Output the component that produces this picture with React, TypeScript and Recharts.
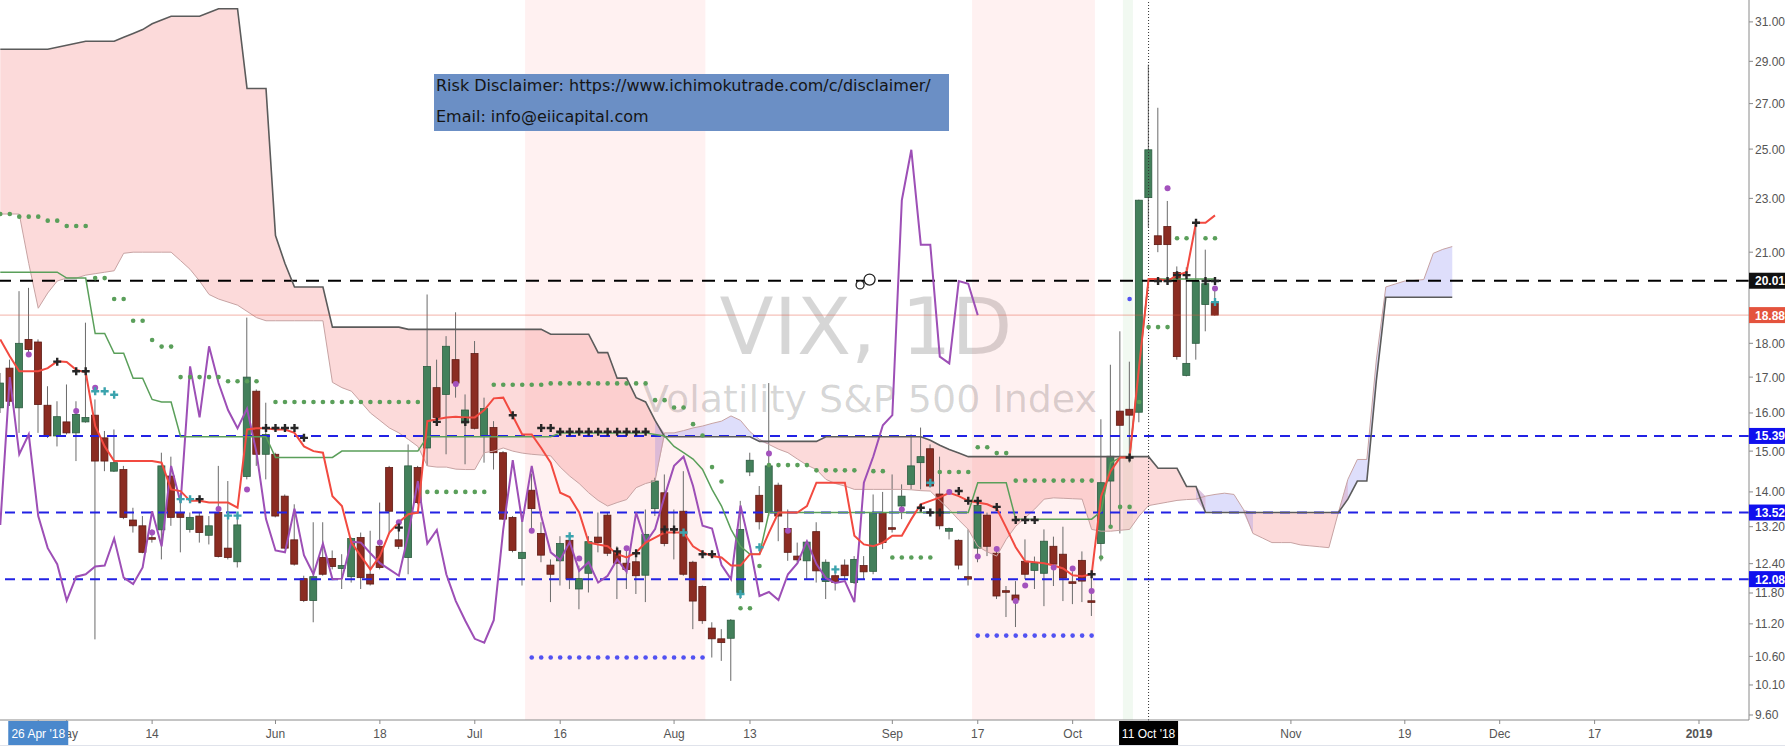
import React from 'react';
import {
  ComposedChart, Bar, Line, Area, Scatter, XAxis, YAxis,
  ReferenceLine, ReferenceArea, ReferenceDot,
} from 'recharts';

// bar index 0 = 20 Apr 2018, one step per trading day (every weekday after 22 Oct)
const opens = [
  16.14, 17.26, 16.14, 18.12, 18.04, 16.21, 15.39, 15.76, 15.47, 15.76,
  15.94, 15.34, 14.50, 14.54, 13.35, 13.22, 12.95, 13.13, 14.38, 13.52,
  13.14, 13.44, 13.01, 13.52, 12.73, 12.44, 14.37, 16.60, 14.92, 14.92,
  13.90, 12.91, 12.09, 11.65, 12.53, 12.51, 12.30, 12.13, 12.96, 12.18,
  12.77, 14.59, 12.91, 12.53, 14.59, 15.08, 16.70, 16.51, 17.51, 15.73,
  17.69, 15.37, 15.61, 14.96, 13.41, 12.51, 14.04, 13.05, 12.37, 12.46,
  12.90, 11.88, 12.20, 12.97, 13.46, 12.65, 12.41, 12.44, 12.16, 13.61,
  13.98, 13.15, 13.55, 12.43, 11.93, 11.12, 10.92, 10.93, 11.81, 14.48,
  13.92, 13.52, 14.16, 13.16, 12.56, 12.46, 13.09, 12.03, 12.15, 12.37,
  12.01, 12.36, 12.24, 13.52, 13.17, 13.67, 14.18, 14.71, 15.06, 13.95,
  13.10, 12.90, 12.13, 12.73, 13.46, 12.62, 11.84, 11.76, 12.45, 12.26,
  12.20, 12.77, 12.60, 12.02, 12.47, 11.64, 12.83, 14.26, 16.05, 16.10,
  16.02, 23.03, 21.59, 21.93, 20.29, 17.05, 18.00, 19.22, 19.29,
];
const highs = [
  17.12, 17.51, 19.66, 19.77, 18.12, 16.74, 16.32, 16.79, 16.32, 18.64,
  16.37, 15.52, 15.56, 14.63, 13.63, 13.44, 13.14, 14.96, 14.86, 13.98,
  13.52, 13.52, 13.44, 14.63, 14.26, 13.52, 18.80, 16.65, 16.28, 14.96,
  13.94, 13.71, 12.15, 13.30, 13.30, 12.68, 12.60, 12.96, 13.07, 13.11,
  13.75, 14.63, 13.30, 15.17, 14.63, 19.55, 17.51, 18.22, 18.97, 16.51,
  18.07, 16.42, 15.78, 15.00, 13.44, 13.44, 14.44, 13.30, 12.49, 12.99,
  13.03, 12.36, 12.99, 13.52, 13.52, 12.77, 12.77, 12.64, 13.59, 14.34,
  14.42, 13.59, 14.50, 12.46, 11.95, 11.23, 11.10, 11.29, 13.79, 14.96,
  14.14, 16.83, 14.22, 13.59, 12.85, 12.88, 13.30, 12.49, 12.32, 12.49,
  12.56, 12.56, 13.94, 14.00, 14.42, 14.18, 15.43, 15.61, 15.17, 14.86,
  13.18, 12.92, 13.14, 13.75, 13.52, 12.75, 11.94, 12.04, 12.92, 12.55,
  13.14, 12.98, 13.20, 12.24, 12.66, 12.14, 15.83, 17.36, 18.37, 17.45,
  22.95, 28.84, 26.81, 22.90, 20.50, 20.47, 22.07, 21.09, 19.71,
];
const lows = [
  16.00, 16.19, 15.47, 17.61, 15.47, 15.34, 15.12, 15.43, 14.75, 15.74,
  10.91, 14.50, 14.48, 13.37, 13.07, 12.62, 12.85, 12.49, 13.22, 12.64,
  13.07, 12.85, 12.81, 12.53, 12.49, 12.32, 14.30, 14.63, 14.30, 13.41,
  12.71, 12.36, 11.62, 11.23, 12.15, 12.28, 11.88, 12.01, 11.88, 11.95,
  12.28, 13.07, 12.71, 12.18, 13.71, 14.63, 15.66, 14.92, 16.42, 14.67,
  15.56, 14.71, 14.54, 13.35, 12.64, 11.95, 13.14, 12.43, 11.62, 11.95,
  11.88, 11.48, 11.81, 12.64, 12.56, 11.68, 11.88, 11.78, 11.62, 13.44,
  12.77, 12.49, 12.15, 11.10, 11.20, 10.58, 10.52, 10.17, 11.68, 14.38,
  13.14, 13.44, 12.88, 12.46, 12.43, 12.08, 12.01, 11.68, 11.85, 12.05,
  11.98, 12.08, 12.18, 12.71, 13.07, 13.37, 14.06, 14.06, 14.10, 13.14,
  12.92, 12.28, 11.95, 12.43, 12.56, 11.68, 11.33, 11.14, 12.08, 11.88,
  11.54, 11.94, 11.64, 11.58, 11.62, 11.35, 12.45, 13.21, 13.05, 14.71,
  15.75, 21.90, 21.00, 19.90, 17.51, 17.02, 17.51, 18.37, 18.86,
];
const closes = [
  16.83, 16.32, 18.00, 17.81, 16.23, 15.39, 15.90, 15.47, 15.96, 15.88,
  14.75, 14.75, 14.71, 13.41, 13.22, 12.64, 12.93, 14.63, 13.41, 13.41,
  13.41, 13.07, 13.22, 12.55, 12.53, 13.24, 17.00, 14.92, 15.43, 13.44,
  12.73, 12.39, 11.65, 12.13, 12.18, 12.34, 12.36, 12.94, 12.11, 11.98,
  12.32, 13.55, 12.77, 14.63, 13.75, 17.31, 15.88, 17.91, 16.83, 16.08,
  15.59, 16.12, 14.96, 13.37, 12.68, 12.64, 13.61, 12.58, 12.18, 12.83,
  12.08, 12.09, 12.87, 12.85, 12.62, 12.41, 12.28, 12.15, 13.03, 14.26,
  12.83, 13.13, 12.18, 11.64, 11.26, 10.92, 10.85, 11.27, 13.14, 14.77,
  13.31, 14.63, 13.44, 12.64, 12.48, 12.86, 12.25, 12.43, 12.01, 12.15,
  12.49, 12.23, 13.52, 12.85, 13.15, 13.90, 14.63, 14.86, 14.14, 13.22,
  13.16, 12.37, 12.08, 13.68, 12.77, 11.74, 11.82, 11.66, 12.18, 12.41,
  12.88, 12.39, 12.10, 12.00, 12.04, 11.62, 14.22, 14.87, 15.67, 15.94,
  22.93, 24.97, 21.27, 21.27, 17.60, 17.40, 20.00, 19.91, 18.88,
];
const tenkan = [
  18.12, 17.61, 17.17, 17.17, 17.17, 17.26, 17.46, 17.44, 17.21, 17.14,
  15.65, 15.12, 14.75, 14.75, 14.75, 14.75, 14.75, 14.71, 14.06, 14.02,
  13.79, 13.79, 13.75, 13.75, 13.75, 13.63, 15.56, 15.59, 15.59, 15.56,
  15.56, 15.47, 15.12, 15.00, 14.96, 13.90, 13.67, 12.85, 12.56, 12.28,
  12.56, 13.07, 13.30, 13.48, 13.52, 15.78, 15.83, 15.88, 15.90, 15.88,
  15.88, 16.08, 16.40, 16.42, 15.92, 15.43, 15.43, 15.08, 14.71, 13.98,
  13.88, 13.52, 12.85, 12.81, 12.77, 12.60, 12.53, 12.64, 12.85, 12.96,
  13.07, 13.07, 13.07, 12.77, 12.64, 12.56, 12.53, 12.36, 12.36, 12.60,
  12.60, 13.07, 13.52, 13.52, 13.52, 13.67, 14.22, 14.22, 14.22, 14.22,
  13.00, 12.81, 12.77, 12.85, 13.00, 13.00, 13.37, 13.71, 13.79, 13.87,
  13.98, 13.90, 13.79, 13.75, 13.71, 13.61, 13.18, 12.75, 12.45, 12.43,
  12.41, 12.36, 12.30, 12.16, 12.14, 12.18, 13.90, 14.50, 14.84, 14.84,
  17.30, 20.07, 20.07, 20.00, 20.20, 20.30, 22.07, 22.07, 22.35,
];
const kijun = [
  20.3, 20.3, 20.3, 20.3, 20.3, 20.3, 20.3, 20.1, 20.1, 20.1,
  18.3, 18.3, 17.7, 17.7, 16.97, 16.97, 16.37, 16.3, 16.3, 15.37,
  15.37, 15.37, 15.37, 15.37, 15.37, 15.37, 15.37, 15.37, 15.37, 14.84,
  14.84, 14.84, 14.84, 14.84, 14.84, 14.84, 15.0, 15.0, 15.0, 15.0,
  15.0, 15.0, 15.0, 15.0, 15.0, 15.37, 15.37, 15.37, 15.37, 15.37,
  15.37, 15.37, 15.37, 15.37, 15.37, 15.37, 15.37, 15.37, 15.37, 15.47,
  15.47, 15.47, 15.47, 15.47, 15.47, 15.47, 15.47, 15.47, 15.47, 15.43,
  15.39, 15.12, 14.96, 14.8, 14.54, 14.06, 13.67, 13.14, 12.77, 12.6,
  12.6, 13.52, 13.52, 13.52, 13.52, 13.52, 13.52, 13.52, 13.52, 13.52,
  13.52, 13.52, 13.52, 13.52, 13.52, 13.52, 13.52, 13.52, 13.52, 13.52,
  13.52, 13.52, 13.52, 14.22, 14.22, 14.22, 14.22, 13.37, 13.37, 13.37,
  13.37, 13.37, 13.37, 13.37, 13.37, 13.37, 13.55, 14.7, 14.84, 14.84,
  17.3, 20.07, 20.07, 20.07, 20.07, 20.07, 20.07, 20.07, 20.07,
];
// cloud spans, already drawn 25 bars ahead (154 bars)
const senkouA = [
  22.4, 22.4, 22.4, 20.6, 19.1, 19.6, 20.0, 20.1, 20.1, 20.2,
  20.25, 20.3, 20.35, 20.96, 21.0, 21.0, 21.0, 21.0, 21.0, 20.7,
  20.4, 20.0, 19.55, 19.4, 19.3, 19.2, 19.0, 18.8, 18.7, 18.7,
  18.7, 18.7, 18.7, 18.7, 18.7, 16.85, 16.7, 16.6, 16.3, 16.0,
  15.8, 15.6, 15.47, 15.3, 15.12, 14.63, 14.6, 14.6, 14.55, 14.54,
  14.54, 14.96, 15.0, 15.08, 15.0, 14.95, 14.92, 14.9, 14.88, 14.6,
  14.38, 14.2, 13.98, 13.8, 13.67, 13.75, 13.82, 14.1, 14.2, 14.26,
  15.47, 15.47, 15.53, 15.6, 15.65, 15.72, 15.78, 15.92, 15.8, 15.5,
  15.3, 15.17, 15.05, 14.96, 14.8, 14.65, 14.54, 14.3, 14.2, 14.14,
  14.06, 14.06, 14.06, 14.06, 14.06, 14.06, 14.05, 14.03, 14.02, 13.8,
  13.59, 13.35, 13.14, 12.77, 12.65, 12.56, 12.92, 13.21, 13.4, 13.6,
  13.83, 13.86, 13.85, 13.84, 13.83, 13.14, 13.1, 13.1, 13.12, 13.14,
  13.44, 13.68, 13.72, 13.76, 13.8, 13.82, 13.83, 13.9, 13.94, 13.97,
  13.94, 13.59, 13.05, 12.95, 12.85, 12.85, 12.85, 12.8, 12.78, 12.76,
  12.74, 13.52, 14.3, 14.79, 14.79, 17.5, 19.8, 19.9, 20.0, 20.02,
  20.05, 20.96, 21.1, 21.2,
];
const senkouB = [
  29.6, 29.6, 29.6, 29.6, 29.6, 29.6, 29.7, 29.8, 29.9, 30.0,
  30.0, 30.0, 30.0, 30.2, 30.4, 30.6, 30.9, 31.1, 31.3, 31.3,
  31.3, 31.3, 31.5, 31.7, 31.7, 31.7, 27.7, 27.7, 27.7, 21.6,
  20.6, 19.8, 19.8, 19.8, 19.8, 18.5, 18.5, 18.5, 18.5, 18.5,
  18.5, 18.5, 18.5, 18.43, 18.43, 18.43, 18.43, 18.43, 18.43, 18.43,
  18.43, 18.43, 18.43, 18.43, 18.43, 18.43, 18.43, 18.43, 18.28, 18.28,
  18.28, 18.28, 18.28, 17.72, 17.72, 16.97, 16.97, 16.42, 16.3, 15.8,
  15.37, 15.37, 15.37, 15.37, 15.37, 15.37, 15.37, 15.37, 15.37, 15.37,
  15.25, 15.25, 15.25, 15.25, 15.25, 15.25, 15.25, 15.37, 15.37, 15.37,
  15.37, 15.37, 15.37, 15.37, 15.37, 15.37, 15.37, 15.37, 15.28, 15.15,
  15.04, 14.95, 14.86, 14.86, 14.86, 14.86, 14.86, 14.86, 14.86, 14.86,
  14.86, 14.86, 14.86, 14.86, 14.86, 14.86, 14.86, 14.86, 14.86, 14.86,
  14.86, 14.86, 14.57, 14.57, 14.57, 14.13, 14.13, 13.52, 13.52, 13.52,
  13.52, 13.52, 13.52, 13.52, 13.52, 13.52, 13.52, 13.52, 13.52, 13.52,
  13.52, 13.52, 13.83, 14.26, 14.26, 16.9, 19.46, 19.46, 19.46, 19.46,
  19.46, 19.46, 19.46, 19.46,
];
const LAG = 25; // lagging span offset in bars

// dotted marker runs: [fromBar, toBar, price]
const greenDotRuns: [number, number, number][] = [
  [0, 1, 22.4], [2, 4, 22.3], [5, 6, 22.15], [7, 9, 21.95], [10, 11, 20.1], [12, 13, 19.4],
  [14, 15, 18.7], [16, 16, 18.1], [17, 18, 17.9], [19, 23, 17.0], [24, 27, 16.88], [29, 44, 16.3],
  [45, 51, 14.0], [52, 57, 16.78], [58, 68, 16.82], [69, 70, 16.35], [71, 72, 16.15], [73, 73, 15.7],
  [74, 74, 15.4], [75, 75, 14.6], [76, 76, 14.25], [78, 79, 11.5], [80, 80, 12.35], [81, 85, 14.65],
  [86, 90, 14.52], [92, 93, 14.5], [94, 98, 12.53], [99, 102, 14.48], [103, 104, 15.1], [105, 106, 14.95],
  [107, 115, 14.27], [116, 116, 12.53], [117, 117, 13.2], [118, 119, 13.65], [120, 120, 16.3],
  [121, 123, 18.5], [124, 125, 21.5], [127, 128, 21.5],
];
const blueDotRuns: [number, number, number][] = [[56, 74, 10.58], [103, 115, 10.98], [119, 119, 19.4]];

const blackCrosses: [number, number][] = [
  [6, 17.45], [8, 17.17], [9, 17.17], [21, 13.83], [28, 15.6], [29, 15.6], [30, 15.6], [31, 15.6],
  [32, 15.34], [42, 13.18], [46, 15.76], [49, 15.76], [54, 15.94], [57, 15.6], [58, 15.6], [59, 15.5],
  [60, 15.5], [61, 15.5], [62, 15.5], [63, 15.5], [64, 15.5], [65, 15.5], [66, 15.5], [67, 15.5],
  [68, 15.5], [65, 12.66], [67, 12.62], [70, 13.14], [71, 13.14], [74, 12.6], [75, 12.6], [97, 13.63],
  [98, 13.52], [99, 13.52], [101, 14.02], [102, 13.79], [103, 13.79], [105, 13.65], [107, 13.35],
  [108, 13.35], [109, 13.35], [115, 12.18], [119, 14.84], [122, 20.0], [123, 20.0], [124, 20.2],
  [125, 20.2], [126, 22.07], [127, 20.0], [128, 20.0],
];
const tealCrosses: [number, number][] = [
  [10, 16.6], [11, 16.6], [12, 16.5], [19, 13.83], [20, 13.83], [24, 13.45], [25, 13.45], [60, 12.99],
  [72, 13.07], [78, 11.78], [80, 12.75], [88, 12.28], [98, 14.22], [128, 19.3],
];
const purpleDots: [number, number][] = [
  [3, 17.66], [8, 16.05], [10, 16.7], [16, 13.07], [23, 13.6], [26, 14.06], [40, 12.85], [42, 13.3],
  [48, 16.8], [56, 13.11], [61, 12.51], [66, 12.73], [81, 14.94], [83, 13.11], [95, 13.59], [100, 14.0],
  [103, 12.55], [105, 12.71], [107, 11.64], [108, 11.95], [111, 12.32], [113, 12.3], [115, 11.84],
  [123, 23.4], [128, 19.75],
];
const drawingCircles: [number, number, number][] = [[90.6, 19.87, 4], [91.6, 20.05, 5.5]];

// background session bands [fromBar, toBar, colour]
const bands: [number, number, string][] = [[55.3, 74.3, '#ff5252'], [102.4, 115.35, '#ff5252'], [118.3, 119.35, '#4caf50']];

const levels = [
  { v: 20.01, color: '#000000', width: 2, dash: '13 9' },
  { v: 15.39, color: '#2222e4', width: 2, dash: '10 7' },
  { v: 13.52, color: '#2222e4', width: 2, dash: '10 7' },
  { v: 12.08, color: '#2222e4', width: 2, dash: '10 7' },
];
const LAST_PRICE = 18.88;

const yTicks = [9.6, 10.1, 10.6, 11.2, 11.8, 12.4, 13.2, 14, 15, 16, 17, 18, 21, 23, 25, 27, 29, 31];
const yBoxes = [
  { v: 20.01, color: '#111111' },
  { v: 18.88, color: '#e4533d' },
  { v: 15.39, color: '#1010ee' },
  { v: 13.52, color: '#1010ee' },
  { v: 12.08, color: '#1010ee' },
];
const xTicks = [7, 16, 29, 40, 50, 59, 71, 79, 94, 103, 113, 136, 148, 158, 168, 179];
const xLabels = ['May', '14', 'Jun', '18', 'Jul', '16', 'Aug', '13', 'Sep', '17', 'Oct', 'Nov', '19', 'Dec', '17', '2019'];
const xBoxes = [
  { k: 4, label: "26 Apr '18", color: '#4a88cc', w: 60 },
  { k: 121, label: "11 Oct '18", color: '#000000', w: 59 },
];

const X_MIN = -0.03;
const X_MAX = 184.27;
const Y_MIN = 9.519;
const Y_MAX = 32.17;
const FONT = '"Liberation Sans", Arial, sans-serif';

const rows = senkouA.map((a, k) => {
  const b = senkouB[k];
  const bear = (i: number) => i >= 0 && i < senkouA.length && senkouB[i] >= senkouA[i];
  const bull = (i: number) => i >= 0 && i < senkouA.length && senkouA[i] > senkouB[i];
  const lo = Math.min(a, b);
  const hi = Math.max(a, b);
  const row: any = {
    k, a, b,
    pink: bear(k) || bear(k - 1) || bear(k + 1) ? [lo, hi] : null,
    lav: bull(k) || bull(k - 1) || bull(k + 1) ? [lo, hi] : null,
  };
  if (k < closes.length) {
    const o = opens[k];
    const c = closes[k];
    row.o = o;
    row.c = c;
    row.wick = [lows[k], highs[k]];
    row.body = [Math.min(o, c), Math.max(o, c)];
    row.tenkan = tenkan[k];
    row.kijun = kijun[k];
  }
  if (k + LAG < closes.length) row.chikou = closes[k + LAG];
  return row;
});

const runPoints = (runs: [number, number, number][]) =>
  runs.flatMap(([from, to, p]) => Array.from({ length: to - from + 1 }, (_, i) => ({ k: from + i, p })));
const pts = (list: [number, number][]) => list.map(([k, p]) => ({ k, p }));

const Wick = (props: any) => {
  const { x, y, width, height } = props;
  if (x == null || y == null || isNaN(y)) return null;
  const top = height < 0 ? y + height : y;
  return <rect x={x + width / 2 - 0.5} y={top} width={1} height={Math.max(Math.abs(height), 1)} fill="#6b6b6b" />;
};

const Body = (props: any) => {
  const { x, y, width, height, payload } = props;
  if (x == null || y == null || isNaN(y)) return null;
  const up = payload.c >= payload.o;
  const h = Math.abs(height);
  const top = height < 0 ? y + height : y;
  const hh = Math.max(h, 1.6);
  return (
    <rect
      x={x} y={h < 1.6 ? top - (1.6 - h) / 2 : top} width={width} height={hh}
      fill={up ? '#43805b' : '#8b2c22'} stroke={up ? '#2c5c40' : '#5e1b14'} strokeWidth={0.8}
    />
  );
};

const cross = (color: string) => (p: any) => (
  <path d={`M${p.cx - 4},${p.cy}H${p.cx + 4}M${p.cx},${p.cy - 4}V${p.cy + 4}`} stroke={color} strokeWidth={2.4} />
);
const dot = (color: string, r: number) => (p: any) => <circle cx={p.cx} cy={p.cy} r={r} fill={color} />;

const YTick = (props: any) => {
  const { x, y, payload } = props;
  const v = payload.value;
  const box = yBoxes.find((b) => b.v === v);
  if (box) {
    return (
      <g>
        <rect x={x - 6} y={y - 8} width={42} height={16} fill={box.color} />
        <text x={x} y={y} dy={4.5} fill="#ffffff" fontSize={12} fontWeight="bold" fontFamily={FONT}>{v.toFixed(2)}</text>
      </g>
    );
  }
  return <text x={x} y={y} dy={4.5} fill="#555555" fontSize={12} fontFamily={FONT}>{v.toFixed(2)}</text>;
};

const XTick = (props: any) => {
  const { x, y, payload } = props;
  const k = payload.value;
  const box = xBoxes.find((b) => b.k === k);
  if (box) {
    return (
      <g>
        <rect x={x - box.w / 2} y={y - 5} width={box.w} height={24} fill={box.color} />
        <text x={x} y={y} dy={11.5} textAnchor="middle" fill="#ffffff" fontSize={12} fontFamily={FONT}>{box.label}</text>
      </g>
    );
  }
  const i = xTicks.indexOf(k);
  const label = xLabels[i];
  return (
    <text x={x} y={y} dy={11.5} textAnchor="middle" fill="#555555" fontSize={12} fontFamily={FONT}
      fontWeight={label === '2019' ? 'bold' : 'normal'}>
      {label}
    </text>
  );
};

const lineProps = { dot: false, activeDot: false, isAnimationActive: false, legendType: 'none' as const };

export default function App() {
  return (
    <div style={{ position: 'absolute', left: 0, top: 0, width: 1785, height: 751, background: '#ffffff', overflow: 'hidden' }}>
      <div style={{ position: 'absolute', left: 666, top: 288, width: 400, textAlign: 'center', fontFamily: '"DejaVu Sans", sans-serif', fontSize: 79, lineHeight: '79px', color: 'rgba(0,0,0,0.16)', whiteSpace: 'nowrap' }}>
        VIX, 1D
      </div>
      <div style={{ position: 'absolute', left: 570, top: 380, width: 600, textAlign: 'center', fontFamily: '"DejaVu Sans", sans-serif', fontSize: 38, lineHeight: '38px', color: 'rgba(0,0,0,0.16)', whiteSpace: 'nowrap' }}>
        Volatility S&amp;P 500 Index
      </div>
      <div style={{ position: 'absolute', left: 0, top: 0 }}>
        <ComposedChart width={1785} height={751} data={rows} margin={{ top: 0, right: 0, bottom: 0, left: 0 }} barGap={-7} barCategoryGap={0}>
          <XAxis
            dataKey="k" type="number" domain={[X_MIN, X_MAX]} allowDataOverflow
            ticks={[...xTicks, ...xBoxes.map((b) => b.k)]} interval={0} height={31} tickSize={4} tickMargin={2}
            tick={<XTick />} axisLine={{ stroke: '#8a8a8a' }} tickLine={{ stroke: '#8a8a8a' }}
          />
          <YAxis
            orientation="right" type="number" scale="log" domain={[Y_MIN, Y_MAX]} allowDataOverflow
            ticks={[...yTicks, ...yBoxes.map((b) => b.v)]} interval={0} width={36} tickSize={4} tickMargin={2}
            tick={<YTick />} axisLine={{ stroke: '#8a8a8a' }} tickLine={{ stroke: '#8a8a8a' }}
          />
          {bands.map(([x1, x2, color], i) => (
            <ReferenceArea key={`band${i}`} x1={x1} x2={x2} fill={color} fillOpacity={0.08} stroke="none" ifOverflow="hidden" />
          ))}
          <Area dataKey="pink" stroke="none" fill="#f26d6d" fillOpacity={0.25} dot={false} activeDot={false} isAnimationActive={false} />
          <Area dataKey="lav" stroke="none" fill="#7b7bef" fillOpacity={0.25} dot={false} activeDot={false} isAnimationActive={false} />
          <Line dataKey="a" stroke="#c7a3a3" strokeWidth={1} {...lineProps} />
          {levels.map((l) => (
            <ReferenceLine key={l.v} y={l.v} stroke={l.color} strokeWidth={l.width} strokeDasharray={l.dash} />
          ))}
          <ReferenceLine y={LAST_PRICE} stroke="#e4533d" strokeOpacity={0.45} strokeWidth={1} />
          <ReferenceLine x={121} stroke="#333333" strokeDasharray="1 2" />
          <Line dataKey="chikou" stroke="#9d4fb6" strokeWidth={2} {...lineProps} />
          <Bar dataKey="wick" barSize={7} shape={<Wick />} isAnimationActive={false} />
          <Bar dataKey="body" barSize={7} shape={<Body />} isAnimationActive={false} />
          <Line dataKey="b" stroke="#5b5b5b" strokeWidth={1.6} {...lineProps} />
          <Line dataKey="kijun" stroke="#5a9f5a" strokeWidth={1.5} {...lineProps} />
          <Line dataKey="tenkan" stroke="#f24a40" strokeWidth={2} {...lineProps} />
          <Scatter data={runPoints(greenDotRuns)} dataKey="p" shape={dot('#5a9f5a', 2.3)} isAnimationActive={false} />
          <Scatter data={runPoints(blueDotRuns)} dataKey="p" shape={dot('#5252f2', 2.3)} isAnimationActive={false} />
          <Scatter data={pts(purpleDots)} dataKey="p" shape={dot('#a352bd', 3)} isAnimationActive={false} />
          <Scatter data={pts(tealCrosses)} dataKey="p" shape={cross('#3ba3ad')} isAnimationActive={false} />
          <Scatter data={pts(blackCrosses)} dataKey="p" shape={cross('#262626')} isAnimationActive={false} />
          {drawingCircles.map(([k, p, r]) => (
            <ReferenceDot key={k} x={k} y={p} r={r} fill="#ffffff" stroke="#222222" strokeWidth={1.3} />
          ))}
        </ComposedChart>
      </div>
      <div style={{ position: 'absolute', left: 0, top: 745, width: 1785, height: 1, background: '#e0e3eb' }} />
      <div style={{ position: 'absolute', left: 434, top: 74, width: 515, height: 57, background: '#6b8fc5' }}>
        <div style={{ position: 'absolute', left: 2, top: 2, fontFamily: '"DejaVu Sans", Verdana, sans-serif', fontSize: 16, lineHeight: '20px', color: '#151515', whiteSpace: 'nowrap' }}>
          Risk Disclaimer: https://www.ichimokutrade.com/c/disclaimer/
        </div>
        <div style={{ position: 'absolute', left: 2, top: 33, fontFamily: '"DejaVu Sans", Verdana, sans-serif', fontSize: 16, lineHeight: '20px', color: '#151515', whiteSpace: 'nowrap' }}>
          Email: info@eiicapital.com
        </div>
      </div>
    </div>
  );
}
